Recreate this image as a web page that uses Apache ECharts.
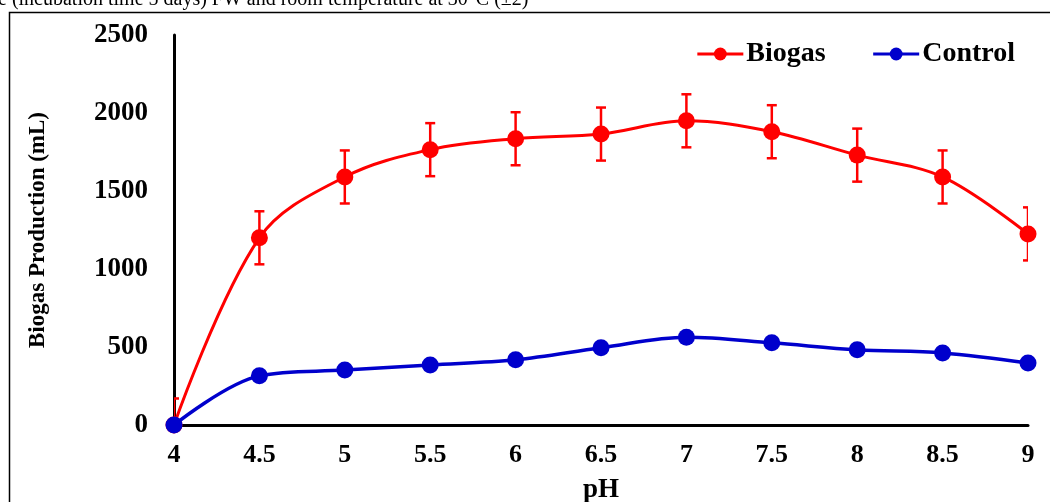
<!DOCTYPE html>
<html><head><meta charset="utf-8">
<script src="https://cdn.jsdelivr.net/npm/echarts@6/dist/echarts.min.js"></script>
<style>html,body{margin:0;padding:0;background:#fff}#c{width:1050px;height:502px}</style>
</head><body><div id="c"></div>
<script>
const phValues = [4, 4.5, 5, 5.5, 6, 6.5, 7, 7.5, 8, 8.5, 9];
const biogas = [0, 1200, 1590, 1765, 1835, 1865, 1950, 1880, 1730, 1590, 1225];
const biogasErr = [170, 170, 170, 170, 170, 170, 170, 170, 170, 170, 170];
const control = [0, 315, 352, 385, 418, 495, 563, 527, 482, 462, 397];
const yTicks = [0, 500, 1000, 1500, 2000, 2500];
const titleText = 'e (incubation time 5 days) FW and room temperature at 30°C (±2)';

const font = 'Liberation Serif';
const chart = echarts.init(document.getElementById('c'));
const biogasData = phValues.map((x, i) => [x, biogas[i]]);
const controlData = phValues.map((x, i) => [x, control[i]]);
const errData = phValues.map((x, i) => [x, biogas[i] - biogasErr[i], biogas[i] + biogasErr[i]]);

chart.setOption({
  animation: false,
  backgroundColor: '#fff',
  graphic: [
    { type: 'text', left: -2, top: -10, style: { text: titleText, font: '20px "Liberation Serif"', fill: '#000' } },
    { type: 'rect', shape: { x: 9.5, y: 12.5, width: 1200, height: 700 }, style: { fill: 'none', stroke: '#000', lineWidth: 1.5 } }
  ],
  grid: { left: 174, right: 22, top: 35, bottom: 77, containLabel: false, outerBoundsMode: 'none' },
  legend: {
    right: 30, top: 35, itemGap: 46, itemWidth: 46, itemHeight: 16,
    lineStyle: { width: 3 },
    textStyle: { fontFamily: font, fontWeight: 'bold', fontSize: 28, color: '#000', padding: [0, 0, 0, -2] },
    data: ['Biogas', 'Control']
  },
  xAxis: {
    type: 'value', min: 4, max: 9, interval: 0.5,
    name: 'pH', nameLocation: 'middle', nameGap: 52,
    nameTextStyle: { fontFamily: font, fontWeight: 'bold', fontSize: 27, color: '#000' },
    axisLine: { show: true, lineStyle: { color: '#000', width: 3 } },
    axisTick: { show: false },
    splitLine: { show: false },
    axisLabel: { margin: 17, fontFamily: font, fontWeight: 'bold', fontSize: 26, color: '#000' }
  },
  yAxis: {
    type: 'value', min: yTicks[0], max: yTicks[yTicks.length - 1], interval: 500,
    name: 'Biogas Production (mL)', nameLocation: 'middle', nameGap: 124,
    nameTextStyle: { fontFamily: font, fontWeight: 'bold', fontSize: 23, color: '#000' },
    axisLine: { show: true, lineStyle: { color: '#000', width: 3 } },
    axisTick: { show: false },
    splitLine: { show: false },
    axisLabel: { margin: 26, fontFamily: font, fontWeight: 'bold', fontSize: 27, color: '#000',
      formatter: function (v) { return String(v); } }
  },
  series: [
    {
      type: 'custom', name: 'err', z: 1, silent: true,
      data: errData,
      renderItem: function (params, api) {
        const x = api.value(0);
        const lo = api.coord([x, api.value(1)]);
        const hi = api.coord([x, api.value(2)]);
        const cap = 5;
        const st = { stroke: '#ff0000', lineWidth: 2.5 };
        return { type: 'group', children: [
          { type: 'line', shape: { x1: lo[0], y1: lo[1], x2: hi[0], y2: hi[1] }, style: st },
          { type: 'line', shape: { x1: hi[0] - cap, y1: hi[1], x2: hi[0] + cap, y2: hi[1] }, style: st },
          { type: 'line', shape: { x1: lo[0] - cap, y1: lo[1], x2: lo[0] + cap, y2: lo[1] }, style: st }
        ]};
      },
      clip: true
    },
    {
      name: 'Biogas', type: 'line', smooth: 0.35, data: biogasData, z: 3, clip: false,
      symbol: 'circle', symbolSize: 17,
      lineStyle: { color: '#ff0000', width: 3 },
      itemStyle: { color: '#ff0000' }
    },
    {
      name: 'Control', type: 'line', smooth: 0.35, data: controlData, z: 4, clip: false,
      symbol: 'circle', symbolSize: 17,
      lineStyle: { color: '#0000cc', width: 3.5 },
      itemStyle: { color: '#0000cc' }
    }
  ]
});
</script></body></html>
